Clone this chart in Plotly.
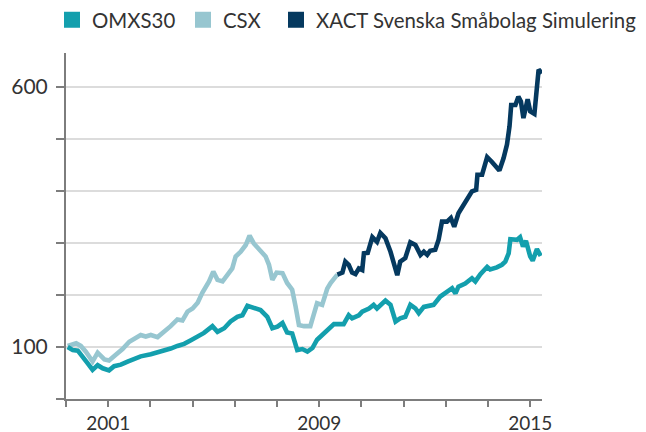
import plotly.graph_objects as go

# Observation index (tick every 10 observations) and index values
omx_t = [0.4, 1.6, 2.8, 4.0, 5.1, 6.3, 7.5, 8.7, 10.2, 11.4, 13.0, 14.6, 16.2, 17.7, 20.1, 21.7, 23.3,
         24.8, 26.4, 28.0, 29.6, 31.2, 32.7, 34.7, 35.9, 37.5, 39.0, 40.6, 41.8, 43.0, 44.5, 46.1,
         47.7, 48.9, 50.1, 51.3, 52.4, 53.6, 54.8, 56.0, 57.2, 58.4, 59.5, 61.1, 62.7, 63.5, 65.8,
         67.0, 67.8, 69.4, 70.2, 71.8, 72.9, 73.7, 75.7, 76.9, 78.1, 79.2, 80.4, 81.6, 82.8, 83.6,
         84.8, 85.9, 87.1, 88.7, 90.3, 91.5, 92.3, 93.0, 94.6, 96.2, 97.0, 98.2, 99.8, 100.5, 102.1,
         103.3, 104.1, 104.9, 105.3, 106.1, 106.9, 107.6, 108.3, 109.0, 110.0, 110.6, 111.6, 112.5]
omx_v = [100, 94, 93, 82, 69, 56, 65, 59, 55, 63, 66, 72, 78, 82, 86, 89, 93,
         97, 102, 106, 113, 120, 127, 140, 129, 136, 149, 158, 161, 179, 176, 171,
         158, 136, 139, 146, 128, 126, 94, 96, 91, 98, 114, 126, 140, 144, 144,
         161, 155, 161, 168, 174, 181, 174, 189, 181, 149, 155, 158, 181, 174, 165,
         177, 179, 181, 197, 206, 213, 203, 216, 222, 232, 226, 240, 254, 249, 253,
         258, 264, 280, 307, 307, 306, 311, 293, 304, 274, 266, 288, 275]

csx_t = [0.4, 2.4, 3.5, 4.7, 6.3, 7.5, 9.1, 10.2, 11.8, 13.4, 15.0, 16.6, 17.7, 18.9, 20.1, 21.7,
         23.3, 24.8, 26.4, 27.6, 28.8, 30.0, 31.2, 32.3, 33.9, 34.9, 35.9, 37.1, 38.3, 39.4, 40.2,
         41.4, 42.6, 43.5, 44.5, 45.7, 47.3, 48.1, 48.9, 49.9, 51.3, 52.4, 53.6, 54.4, 55.2, 56.4,
         57.9, 58.7, 59.5, 60.7, 61.9, 62.7, 64.3]
csx_v = [102, 107, 102, 91, 72, 89, 76, 74, 85, 96, 110, 117, 123, 120, 123, 119,
         129, 140, 153, 151, 168, 174, 185, 204, 226, 245, 229, 226, 239, 251, 274,
         283, 296, 314, 299, 287, 274, 258, 229, 243, 242, 223, 210, 178, 142, 140,
         140, 162, 184, 181, 212, 223, 239]

xact_t = [64.3, 65.5, 66.2, 67.0, 67.8, 68.6, 69.4, 70.2, 70.6, 71.5, 72.6, 73.7, 74.5, 75.7, 76.9,
          77.7, 78.5, 79.2, 80.4, 81.6, 82.8, 84.0, 84.8, 85.6, 86.3, 87.5, 88.3, 89.1, 90.3, 91.2,
          92.0, 93.0, 95.0, 96.2, 97.2, 97.5, 98.6, 99.8, 100.9, 102.7, 103.7, 104.5, 105.1, 105.5,
          106.5, 107.2, 107.8, 108.4, 109.4, 110.0, 111.0, 111.4, 112.0, 112.8]
xact_v = [239, 243, 264, 258, 243, 240, 251, 248, 280, 281, 311, 302, 319, 309, 283,
          258, 238, 264, 271, 301, 296, 277, 283, 277, 285, 287, 306, 341, 341, 348,
          331, 357, 386, 399, 402, 431, 431, 465, 456, 439, 463, 489, 524, 565,
          565, 581, 572, 540, 576, 553, 548, 588, 633, 626]

x_tickvals = [0, 10, 20, 30, 40, 50, 60, 70, 80, 90, 100, 110]
x_ticktext = ["", "2001", "", "", "", "", "2009", "", "", "", "", "2015"]
y_tickvals = [0, 100, 200, 300, 400, 500, 600]
y_ticktext = ["", "100", "", "", "", "", "600"]

names = ["OMXS30", "CSX", "XACT Svenska Småbolag Simulering"]
colors = ["#139fad", "#97c6d0", "#05395f"]
legend_ids = ["legend", "legend2", "legend3"]
legend_x_px = [44, 175, 268]

FONT = "Lato"
# the page body adds an 8px margin, so the figure is 8px smaller each way
W, H = 638, 424
fig = go.Figure()
series = [(omx_t, omx_v), (csx_t, csx_v), (xact_t, xact_v)]
# draw order: CSX, OMXS30, XACT
for idx in [1, 0, 2]:
    t, v = series[idx]
    fig.add_trace(go.Scatter(x=t, y=v, mode="lines", name=names[idx],
                             line=dict(color=colors[idx], width=4.6),
                             showlegend=False, hoverinfo="skip"))
for idx in range(3):
    fig.add_trace(go.Scatter(x=[None], y=[None], mode="markers", name=names[idx],
                             marker=dict(symbol="square", size=16, color=colors[idx]),
                             showlegend=True, legend=legend_ids[idx]))

legend_common = dict(orientation="h", xref="container", yref="container",
                     xanchor="left", yanchor="middle", y=1 - 12 / H,
                     font=dict(size=20.4, color="#333333", family=FONT),
                     itemclick=False, itemdoubleclick=False, bgcolor="rgba(0,0,0,0)",
                     borderwidth=0)
fig.update_layout(
    width=W, height=H,
    margin=dict(l=58, r=104, t=45, b=33, autoexpand=False),
    paper_bgcolor="white", plot_bgcolor="white",
    font=dict(family=FONT, size=20, color="#333333"),
    showlegend=True,
    legend=dict(legend_common, x=legend_x_px[0] / W),
    legend2=dict(legend_common, x=legend_x_px[1] / W),
    legend3=dict(legend_common, x=legend_x_px[2] / W),
)
fig.update_xaxes(range=[0, 112.8], tickmode="array", tickvals=x_tickvals, ticktext=x_ticktext,
                 showgrid=False, zeroline=False, showline=True, linecolor="#7d7d7d", linewidth=2,
                 ticks="outside", ticklen=6, tickwidth=2, tickcolor="#7d7d7d",
                 ticklabelstandoff=0,
                 tickfont=dict(size=19, color="#333333"))
fig.update_yaxes(range=[0, 665], tickmode="array", tickvals=y_tickvals, ticktext=y_ticktext,
                 showgrid=True, gridcolor="#dcdcdc", gridwidth=1.5, zeroline=False,
                 showline=True, linecolor="#7d7d7d", linewidth=2,
                 ticks="outside", ticklen=8, tickwidth=2, tickcolor="#7d7d7d",
                 ticklabelstandoff=4,
                 tickfont=dict(size=21, color="#333333"))

fig.write_html("out.html")
